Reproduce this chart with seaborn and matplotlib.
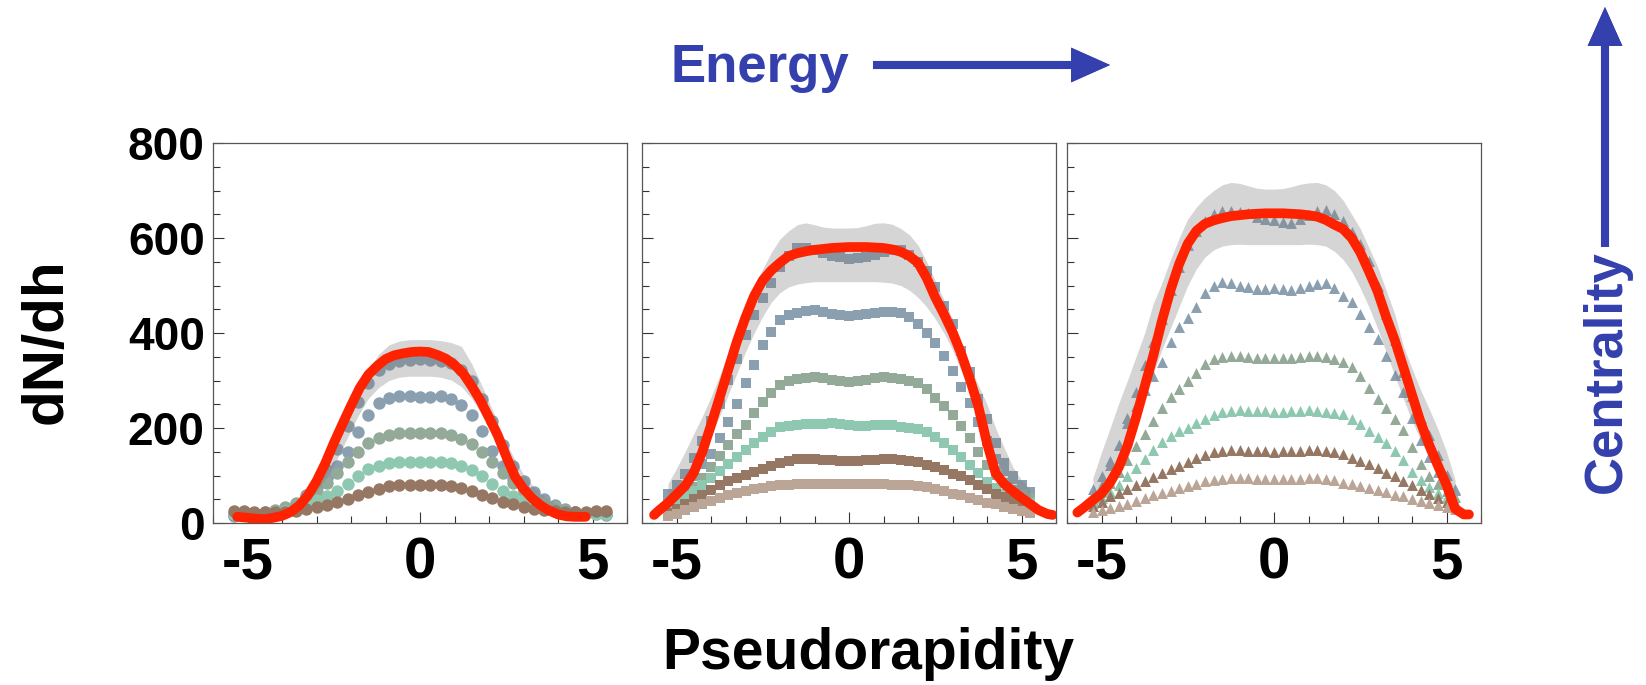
import numpy as np
import pandas as pd
import matplotlib
matplotlib.use('Agg')
import matplotlib.pyplot as plt
from matplotlib.ticker import MultipleLocator
import seaborn as sns

# pseudorapidity bins
eta1 = [-5.4, -5.1, -4.8, -4.5, -4.2, -3.9, -3.6, -3.3, -3.0, -2.7, -2.4, -2.1, -1.8, -1.5, -1.2, -0.9, -0.6, -0.3, 0.0,
        0.3, 0.6, 0.9, 1.2, 1.5, 1.8, 2.1, 2.4, 2.7, 3.0, 3.3, 3.6, 3.9, 4.2, 4.5, 4.8, 5.1, 5.4]
eta23 = [-5.25, -5.0, -4.75, -4.5, -4.25, -4.0, -3.75, -3.5, -3.25, -3.0, -2.75, -2.5, -2.25, -2.0, -1.75, -1.5, -1.25,
         -1.0, -0.75, -0.5, -0.25, 0.0, 0.25, 0.5, 0.75, 1.0, 1.25, 1.5, 1.75, 2.0, 2.25, 2.5, 2.75, 3.0, 3.25, 3.5,
         3.75, 4.0, 4.25, 4.5, 4.75, 5.0, 5.25]

# panel 1 (circles)
p1_a = [15, 16, 17, 19, 22, 27, 36, 52, 78, 112, 155, 205, 255, 295, 322, 335, 342, 344, 345, 344, 342, 336, 322, 298,
        262, 215, 165, 120, 88, 66, 50, 38, 29, 24, 21, 19, 17]
p1_b = [17, 18, 19, 21, 24, 30, 40, 58, 76, 95, 120, 150, 192, 228, 252, 263, 268, 267, 266, 266, 267, 262, 248, 228,
        193, 152, 120, 92, 70, 52, 38, 29, 25, 23, 22, 21, 20]
p1_c = [19, 20, 21, 23, 27, 33, 42, 51, 65, 84, 105, 128, 150, 168, 178, 185, 189, 190, 190, 190, 189, 185, 177, 166,
        150, 128, 105, 84, 65, 51, 42, 34, 28, 24, 22, 21, 20]
p1_d = [19, 20, 21, 22, 23, 25, 30, 40, 48, 57, 68, 82, 99, 113, 121, 126, 128, 128, 128, 128, 128, 126, 121, 112, 99,
        82, 68, 57, 48, 40, 31, 26, 23, 22, 21, 20, 19]
p1_e = [26, 25, 24, 23, 23, 24, 26, 29, 33, 38, 44, 51, 58, 66, 72, 77, 80, 81, 81, 81, 80, 77, 73, 67, 59, 52, 45, 39,
        34, 30, 27, 25, 24, 24, 24, 25, 25]
p1_hi = [18, 19, 20, 22, 25, 30, 40, 56, 84, 120, 165, 222, 280, 325, 355, 375, 383, 386, 386, 386, 384, 380, 372, 335,
         288, 238, 185, 140, 102, 76, 56, 42, 32, 26, 22, 20, 18]
p1_lo = [12, 13, 14, 16, 19, 23, 31, 45, 66, 96, 135, 180, 225, 262, 285, 300, 307, 309, 309, 309, 307, 301, 287, 262,
         228, 185, 140, 100, 72, 55, 42, 33, 26, 22, 18, 15, 13]

# panel 2 (squares)
p2_a = [62, 80, 103, 136, 172, 214, 250, 302, 345, 395, 437, 473, 505, 540, 562, 578, 580, 575, 568, 562, 560, 556, 558,
        560, 565, 570, 575, 575, 565, 550, 530, 497, 456, 418, 362, 317, 262, 218, 168, 126, 98, 77, 58]
p2_b = [42, 60, 78, 100, 125, 146, 180, 212, 250, 295, 333, 374, 402, 427, 438, 443, 447, 449, 445, 440, 437, 436, 438,
        440, 443, 445, 444, 442, 433, 420, 399, 378, 352, 321, 287, 252, 212, 172, 134, 110, 93, 80, 66]
p2_c = [38, 48, 62, 76, 95, 117, 141, 165, 187, 207, 231, 254, 273, 291, 299, 303, 306, 307, 305, 301, 298, 297, 299,
        302, 305, 307, 306, 304, 299, 294, 282, 264, 247, 228, 204, 179, 150, 123, 102, 84, 70, 61, 53]
p2_d = [36, 45, 56, 67, 81, 95, 110, 124, 140, 154, 169, 181, 192, 202, 205, 207, 208, 208, 209, 210, 208, 206, 205, 205,
        206, 207, 206, 203, 200, 198, 191, 182, 168, 154, 140, 123, 105, 87, 73, 62, 54, 47, 42]
p2_e = [22, 30, 40, 51, 60, 70, 79, 88, 95, 101, 108, 114, 121, 127, 131, 134, 135, 134, 133, 132, 131, 131, 131, 132,
        133, 134, 134, 133, 131, 128, 123, 117, 111, 104, 99, 90, 81, 71, 62, 55, 49, 43, 36]
p2_f = [14, 20, 27, 34, 40, 46, 52, 58, 63, 67, 71, 74, 77, 80, 81, 82, 83, 83, 83, 82, 82, 82, 82, 82, 82, 82, 81, 80,
        79, 78, 75, 71, 67, 62, 58, 53, 48, 43, 39, 34, 30, 26, 22]
p2_hi = [82, 115, 150, 188, 225, 265, 310, 360, 405, 455, 500, 535, 570, 598, 615, 628, 632, 628, 623, 621, 621, 621,
         622, 626, 631, 632, 629, 620, 607, 585, 550, 510, 470, 430, 378, 330, 290, 250, 200, 158, 118, 90, 70]
p2_lo = [42, 60, 82, 110, 145, 185, 225, 270, 315, 360, 400, 435, 465, 485, 497, 503, 506, 508, 508, 508, 508, 508, 508,
         508, 508, 507, 505, 500, 490, 475, 455, 430, 400, 365, 320, 275, 230, 185, 140, 100, 75, 58, 45]

# panel 3 (triangles)
p3_a = [72, 100, 130, 165, 222, 275, 332, 382, 430, 490, 540, 585, 615, 636, 650, 656, 657, 655, 652, 645, 640, 638, 634,
        632, 640, 648, 656, 660, 650, 636, 612, 588, 552, 500, 440, 385, 318, 268, 222, 185, 143, 102, 72]
p3_b = [60, 80, 122, 165, 210, 246, 280, 310, 340, 382, 413, 432, 455, 485, 500, 508, 505, 500, 497, 492, 492, 494, 492,
        490, 495, 500, 503, 505, 495, 478, 465, 440, 412, 388, 352, 312, 275, 222, 175, 138, 108, 88, 70]
p3_c = [48, 65, 84, 108, 133, 162, 188, 215, 242, 265, 283, 298, 315, 334, 345, 350, 352, 352, 350, 348, 348, 348, 347,
        348, 350, 351, 352, 350, 345, 340, 328, 309, 284, 262, 242, 220, 195, 160, 125, 100, 82, 67, 55]
p3_d = [42, 53, 65, 80, 98, 116, 135, 153, 170, 184, 193, 201, 210, 220, 228, 233, 236, 237, 236, 235, 235, 234, 234,
        235, 236, 237, 236, 234, 232, 229, 220, 208, 194, 182, 168, 152, 133, 108, 90, 76, 64, 54, 45]
p3_e = [36, 45, 56, 63, 71, 80, 88, 97, 106, 114, 121, 129, 136, 144, 149, 152, 153, 153, 152, 151, 151, 150, 151, 152,
        152, 153, 153, 152, 150, 145, 137, 130, 125, 115, 106, 98, 89, 80, 70, 61, 52, 44, 35]
p3_f = [24, 28, 32, 36, 41, 47, 52, 58, 64, 68, 73, 78, 83, 88, 91, 93, 94, 94, 94, 93, 93, 92, 92, 93, 93, 94, 94, 93,
        90, 85, 82, 78, 74, 69, 65, 60, 56, 51, 47, 42, 37, 33, 29]
p3_hi = [95, 149, 200, 252, 300, 350, 400, 462, 505, 555, 600, 640, 665, 685, 700, 712, 717, 715, 710, 705, 703, 703,
         704, 708, 713, 716, 717, 712, 700, 680, 650, 620, 580, 540, 490, 440, 372, 325, 280, 240, 198, 150, 90]
p3_lo = [45, 70, 100, 140, 180, 225, 270, 315, 365, 410, 455, 500, 535, 560, 575, 583, 586, 587, 586, 586, 586, 586, 586,
         586, 586, 587, 586, 583, 572, 555, 530, 495, 455, 410, 360, 310, 262, 215, 175, 135, 100, 70, 45]

# model curves (red)
red1_eta = [-5.3, -5.0, -4.75, -4.5, -4.25, -4.0, -3.75, -3.5, -3.25, -3.0, -2.75, -2.5, -2.25, -2.0, -1.75, -1.5,
            -1.25, -1.0, -0.75, -0.5, -0.25, 0.0, 0.25, 0.5, 0.75, 1.0, 1.25, 1.5, 1.75, 2.0, 2.25, 2.5, 2.75, 3.0,
            3.25, 3.5, 3.75, 4.0, 4.25, 4.5, 4.8]
red1 = [13, 11, 9, 8, 11, 15, 23, 37, 58, 88, 125, 168, 208, 247, 284, 312, 330, 345, 353, 357, 360, 361, 360, 354, 346,
        333, 315, 288, 258, 222, 185, 140, 98, 72, 52, 37, 26, 18, 14, 13, 13]
red2_eta = [-5.65, -5.5, -5.25, -5.0, -4.75, -4.5, -4.25, -4.0, -3.75, -3.5, -3.25, -3.0, -2.75, -2.5, -2.25, -2.0,
            -1.75, -1.5, -1.25, -1.0, -0.75, -0.5, -0.25, 0.0, 0.25, 0.5, 0.75, 1.0, 1.25, 1.5, 1.75, 2.0, 2.25, 2.5,
            2.75, 3.0, 3.25, 3.5, 3.75, 4.0, 4.25, 4.5, 4.75, 5.0, 5.25, 5.5, 5.75, 5.9]
red2 = [17, 27, 42, 60, 78, 106, 150, 206, 264, 323, 382, 433, 478, 511, 532, 548, 562, 568, 572, 575, 577, 579, 580,
        581, 581, 581, 580, 579, 576, 571, 562, 548, 516, 475, 440, 402, 357, 304, 245, 168, 105, 82, 67, 53, 40, 27,
        19, 17]
red3_eta = [-5.7, -5.5, -5.25, -5.0, -4.75, -4.5, -4.25, -4.0, -3.75, -3.5, -3.25, -3.0, -2.75, -2.5, -2.25, -2.0,
            -1.75, -1.5, -1.25, -1.0, -0.75, -0.5, -0.25, 0.0, 0.25, 0.5, 0.75, 1.0, 1.25, 1.5, 1.75, 2.0, 2.25, 2.5,
            2.75, 3.0, 3.25, 3.5, 3.75, 4.0, 4.25, 4.5, 4.75, 5.0, 5.25, 5.5, 5.65]
red3 = [22, 33, 48, 62, 85, 117, 162, 222, 287, 352, 425, 490, 545, 588, 615, 630, 637, 642, 646, 648, 650, 651, 652,
        652, 652, 651, 650, 648, 645, 638, 628, 619, 600, 570, 530, 488, 434, 385, 328, 270, 212, 164, 121, 80, 30, 18,
        18]

series_colors = ['#8a9fb0', '#8a9fb0', '#93aa98', '#8fc8b0', '#957763', '#bba596']
blue = '#3340ad'

panels = [
    dict(eta=eta1, ys=[p1_a, p1_b, p1_c, p1_d, p1_e], hi=p1_hi, lo=p1_lo, marker='o', s=80,
         reta=red1_eta, red=red1, left=213),
    dict(eta=eta23, ys=[p2_a, p2_b, p2_c, p2_d, p2_e, p2_f], hi=p2_hi, lo=p2_lo, marker='s', s=50,
         reta=red2_eta, red=red2, left=642),
    dict(eta=eta23, ys=[p3_a, p3_b, p3_c, p3_d, p3_e, p3_f], hi=p3_hi, lo=p3_lo, marker='^', s=62,
         reta=red3_eta, red=red3, left=1067),
]

sns.set_style('ticks')
plt.rcParams['font.family'] = ['Liberation Sans', 'DejaVu Sans']
plt.rcParams['font.weight'] = 'bold'
plt.rcParams['axes.unicode_minus'] = False
plt.rcParams['text.color'] = 'black'

W, H = 1646, 685
fig = plt.figure(figsize=(W / 100, H / 100), dpi=100)

for i, p in enumerate(panels):
    ax = fig.add_axes([p['left'] / W, 1 - 523 / H, 414 / W, 380 / H])
    for y, c in zip(p['ys'], series_colors):
        sns.scatterplot(x=p['eta'], y=y, ax=ax, color=c, marker=p['marker'], s=p['s'],
                        linewidth=0, alpha=1, zorder=2, legend=False)
    ax.fill_between(p['eta'], p['lo'], p['hi'], color='#7f7f7f', alpha=0.32, lw=0, zorder=3)
    sns.lineplot(x=p['reta'], y=p['red'], ax=ax, color='#ff2200', lw=7, sort=False,
                 estimator=None, zorder=4)
    ax.set_xlim(-6, 6)
    ax.set_ylim(0, 800)
    ax.xaxis.set_major_locator(MultipleLocator(5))
    ax.xaxis.set_minor_locator(MultipleLocator(1))
    ax.yaxis.set_major_locator(MultipleLocator(200))
    ax.yaxis.set_minor_locator(MultipleLocator(50))
    ax.tick_params(which='both', direction='in', top=False, right=False, color='#333333', width=0.8,
                   labelcolor='black')
    ax.tick_params(which='major', length=8)
    ax.tick_params(which='minor', length=5)
    ax.tick_params(axis='x', labelsize=42, pad=10)
    ax.tick_params(axis='y', labelsize=33, pad=6)
    for sp in ax.spines.values():
        sp.set_color('#555555')
        sp.set_linewidth(0.9)
    if i > 0:
        ax.set_yticklabels([])
    for lab in ax.get_xticklabels() + ax.get_yticklabels():
        lab.set_fontweight('bold')

fig.text(47 / W, 1 - 341 / H, 'dN/dh', rotation=90, ha='center', va='center', fontsize=42, fontweight='bold')
fig.text(868 / W, 1 - 669 / H, 'Pseudorapidity', ha='center', va='baseline', fontsize=41, fontweight='bold')
fig.text(760 / W, 1 - 82 / H, 'Energy', ha='center', va='baseline', fontsize=38, fontweight='bold', color=blue)
fig.text(1607 / W, 1 - 372 / H, 'Centrality', rotation=90, ha='center', va='center', fontsize=38,
         fontweight='bold', color=blue)

arrow = dict(arrowstyle='simple,head_length=28,head_width=25,tail_width=5.8', color=blue, lw=0,
             mutation_scale=1, shrinkA=0, shrinkB=0)
fig.add_artist(plt.annotate('', xy=(1110 / W, 1 - 65 / H), xytext=(873 / W, 1 - 65 / H),
                            xycoords='figure fraction', arrowprops=arrow))
fig.add_artist(plt.annotate('', xy=(1605 / W, 1 - 7 / H), xytext=(1605 / W, 1 - 247 / H),
                            xycoords='figure fraction', arrowprops=arrow))

fig.savefig('out.png', dpi=100)
